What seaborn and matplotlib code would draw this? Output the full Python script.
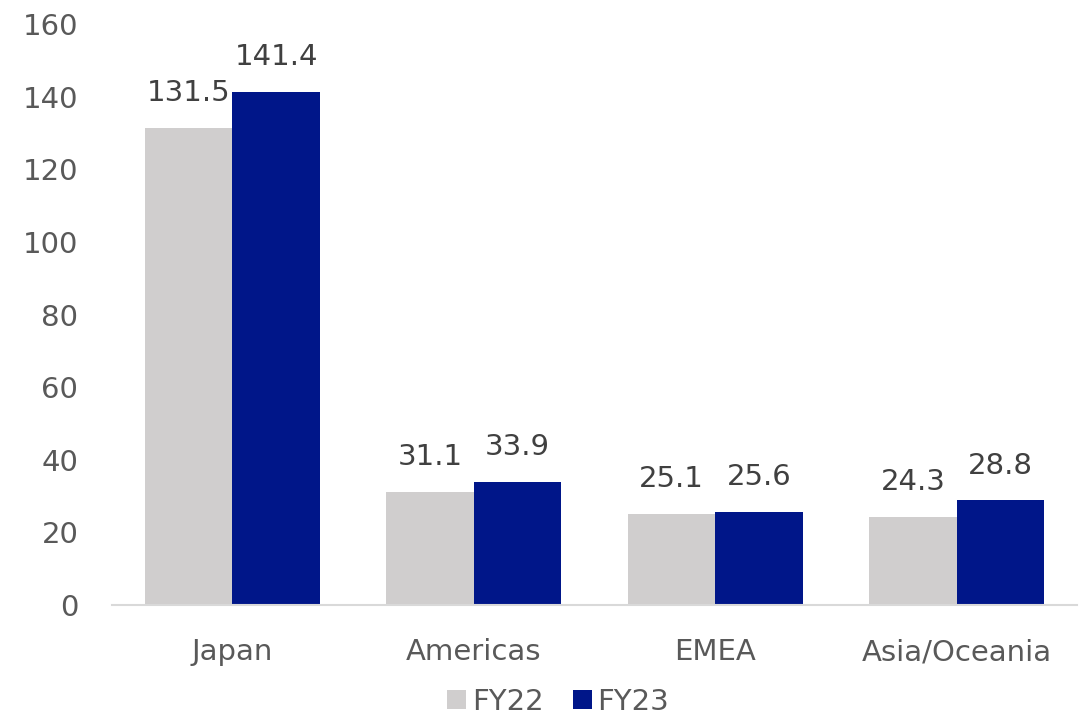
import matplotlib
matplotlib.use("Agg")
import matplotlib.pyplot as plt
import seaborn as sns
import pandas as pd

regions = ["Japan", "Americas", "EMEA", "Asia/Oceania"]
fy22 = [131.5, 31.1, 25.1, 24.3]
fy23 = [141.4, 33.9, 25.6, 28.8]
series = ["FY22", "FY23"]
yticks = [0, 20, 40, 60, 80, 100, 120, 140, 160]

df = pd.DataFrame({
    "Region": regions * 2,
    "Series": [series[0]] * len(regions) + [series[1]] * len(regions),
    "Value": fy22 + fy23,
})

sns.set_theme(style="white")
plt.rcParams['font.family'] = ['DejaVu Sans']
text_color = "#595959"

fig = plt.figure(figsize=(10.84, 7.26), dpi=100)
ax = fig.add_axes([0.103, 0.1667, 0.891, 0.800])

sns.barplot(data=df, x="Region", y="Value", hue="Series", order=regions,
            hue_order=series, palette=["#D0CECE", "#001689"], width=0.725,
            saturation=1, ax=ax, legend=True, linewidth=0)

for cont in ax.containers:
    ax.bar_label(cont, fmt="%.1f", padding=15, fontsize=21, color="#404040")

ax.set_ylim(0, 160)
ax.set_yticks(yticks)
ax.set_yticklabels([str(t) for t in yticks])
ax.set_xlim(-0.5, len(regions) - 0.5)
ax.set_xlabel("")
ax.set_ylabel("")
ax.tick_params(axis="both", labelsize=21, colors=text_color, length=0)
ax.tick_params(axis="x", pad=24)
ax.tick_params(axis="y", pad=24)
for s in ["top", "right", "left"]:
    ax.spines[s].set_visible(False)
ax.spines["bottom"].set_color("#D9D9D9")
ax.spines["bottom"].set_linewidth(1.5)
ax.grid(False)

handles, labels = ax.get_legend_handles_labels()
ax.legend_.remove()
fig.legend(handles, labels, loc="lower center", bbox_to_anchor=(0.515, -0.022),
           ncol=2, frameon=False, fontsize=21, labelcolor=text_color,
           handlelength=0.65, handleheight=0.65, handletextpad=0.2, columnspacing=1.0)

fig.savefig("out.png", dpi=100)
